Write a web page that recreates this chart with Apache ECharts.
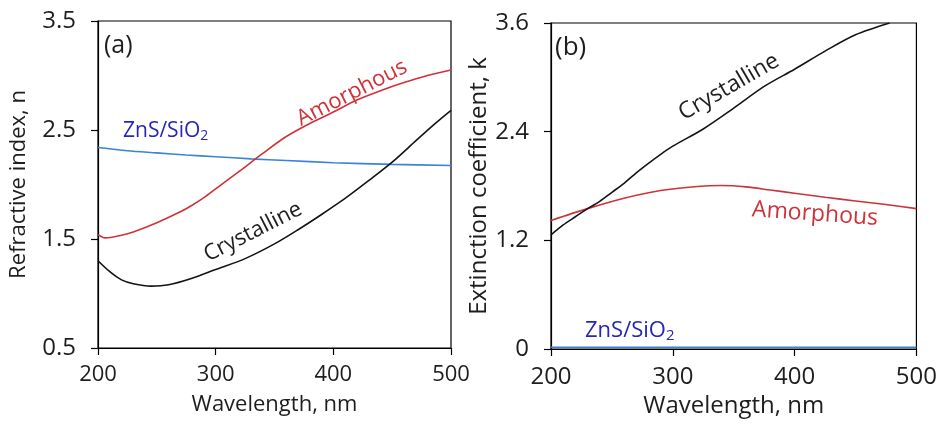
<!DOCTYPE html>
<html>
<head>
<meta charset="utf-8">
<script src="https://cdn.jsdelivr.net/npm/echarts@6/dist/echarts.min.js"></script>
<style>
html,body{margin:0;padding:0;background:#fff;}
#main{width:940px;height:428px;}
</style>
</head>
<body>
<div id="main"></div>
<script>
// ---- Panel (a): refractive index n ----
const nCrysX = [200,210,220,230,245,260,280,300,325,350,370,390,410,430,450,470,485,500];
const nCrysY = [1.30,1.20,1.125,1.09,1.068,1.08,1.14,1.22,1.32,1.455,1.585,1.725,1.872,2.035,2.205,2.40,2.545,2.68];
const nAmorX = [200,206,220,230,250,270,280,290,300,320,340,360,380,400,420,440,460,480,500];
const nAmorY = [1.54,1.51,1.535,1.565,1.65,1.75,1.81,1.88,1.96,2.12,2.285,2.44,2.56,2.665,2.775,2.86,2.935,3.00,3.05];
const nZnsX = [200,225,250,275,300,330,360,400,450,500];
const nZnsY = [2.34,2.31,2.29,2.27,2.255,2.235,2.22,2.20,2.185,2.175];
// ---- Panel (b): extinction coefficient k ----
const kCrysX = [200,210,220,230,240,250,260,270,280,290,300,325,350,375,400,425,450,478];
const kCrysY = [1.26,1.37,1.46,1.55,1.63,1.73,1.83,1.945,2.05,2.15,2.24,2.43,2.66,2.90,3.09,3.29,3.47,3.60];
const kAmorX = [200,230,260,290,320,340,360,380,400,425,450,475,500];
const kAmorY = [1.42,1.55,1.665,1.75,1.795,1.805,1.79,1.755,1.72,1.675,1.635,1.595,1.55];
const kZnsX = [200,300,400,500];
const kZnsY = [0.02,0.02,0.02,0.02];
// ---- axes / ticks ----
const xTicks = [200,300,400,500];
const nTicks = ['0.5','1.5','2.5','3.5'];
const kTicks = ['0','1.2','2.4','3.6'];

const FONT = '"Open Sans", "Noto Sans", sans-serif';
const TXT = '#1e1e1e';
const RED = '#cf3238';
const BLACK = '#141414';
const BLUE_LINE = '#3b82d9';
const BLUE_TXT = '#2626b8';

function pairs(xs, ys){ return xs.map((x,i)=>[x, ys[i]]); }
function fmtTick(list){ return v => { const m = list.find(t => Math.abs(parseFloat(t) - v) < 1e-6); return m !== undefined ? m : ''; }; }

function xAxis(gi, gap, fs){
  return {
    type:'value', gridIndex:gi, min:xTicks[0], max:xTicks[xTicks.length-1], interval:100,
    axisLine:{show:true, onZero:false, lineStyle:{color:'#000', width:1.2}},
    axisTick:{show:true, inside:false, length:7, lineStyle:{color:'#000', width:1.2}},
    splitLine:{show:false},
    axisLabel:{color:TXT, fontFamily:FONT, fontSize:fs, margin:16, formatter:v=>String(v)},
    name:'Wavelength, nm', nameLocation:'middle', nameGap:gap,
    nameTextStyle:{color:TXT, fontFamily:FONT, fontSize:fs}
  };
}
function yAxis(gi, min, max, interval, ticks, name, gap, nfs){
  return {
    type:'value', gridIndex:gi, min:min, max:max, interval:interval,
    axisLine:{show:true, onZero:false, lineStyle:{color:'#000', width:1.2}},
    axisTick:{show:true, inside:false, length:7, lineStyle:{color:'#000', width:1.2}},
    splitLine:{show:false},
    axisLabel:{color:TXT, fontFamily:FONT, fontSize:24, margin:22, formatter:fmtTick(ticks)},
    name:name, nameLocation:'middle', nameGap:gap, nameRotate:90,
    nameTextStyle:{color:TXT, fontFamily:FONT, fontSize:nfs}
  };
}
function line(xi, yi, xs, ys, color){
  return {type:'line', xAxisIndex:xi, yAxisIndex:yi, data:pairs(xs,ys), showSymbol:false, symbol:'none',
    smooth:0.3, clip:true, lineStyle:{color:color, width:1.6}, z:3};
}

const chart = echarts.init(document.getElementById('main'), null, {renderer:'canvas'});
chart.setOption({
  animation:false,
  backgroundColor:'#fff',
  grid:[
    {left:98, top:21, width:353, height:327, show:true, borderColor:'#000', borderWidth:1.2, backgroundColor:'transparent'},
    {left:551, top:23, width:366, height:326, show:true, borderColor:'#000', borderWidth:1.2, backgroundColor:'transparent'}
  ],
  xAxis:[ xAxis(0, 46, 22), xAxis(1, 45, 24) ],
  yAxis:[
    yAxis(0, 0.5, 3.5, 1, nTicks, 'Refractive index, n', 68, 22),
    yAxis(1, 0, 3.6, 1.2, kTicks, 'Extinction coefficient, k', 60, 24)
  ],
  series:[
    line(0,0,nZnsX,nZnsY,BLUE_LINE),
    line(0,0,nAmorX,nAmorY,RED),
    line(0,0,nCrysX,nCrysY,BLACK),
    line(1,1,kZnsX,kZnsY,BLUE_LINE),
    line(1,1,kAmorX,kAmorY,RED),
    line(1,1,kCrysX,kCrysY,BLACK)
  ],
  graphic:[
    {type:'text', x:104, y:46, style:{text:'(a)', fill:TXT, font:'25px '+FONT, align:'left', verticalAlign:'middle'}},
    {type:'text', x:555, y:48, style:{text:'(b)', fill:TXT, font:'26px '+FONT, align:'left', verticalAlign:'middle'}},
    {type:'text', x:123, y:131, style:{text:'{a|ZnS/SiO}{b|2}', align:'left', verticalAlign:'middle',
      rich:{a:{fill:BLUE_TXT, fontFamily:FONT, fontSize:21}, b:{fill:BLUE_TXT, fontFamily:FONT, fontSize:14, padding:[10,0,0,0]}}}},
    {type:'text', x:585, y:331, style:{text:'{a|ZnS/SiO}{b|2}', align:'left', verticalAlign:'middle',
      rich:{a:{fill:BLUE_TXT, fontFamily:FONT, fontSize:22}, b:{fill:BLUE_TXT, fontFamily:FONT, fontSize:15, padding:[10,0,0,0]}}}},
    {type:'text', x:352, y:93, rotation:27*Math.PI/180, style:{text:'Amorphous', fill:RED, font:'22px '+FONT, align:'center', verticalAlign:'middle'}},
    {type:'text', x:253, y:232, rotation:27*Math.PI/180, style:{text:'Crystalline', fill:TXT, font:'22px '+FONT, align:'center', verticalAlign:'middle'}},
    {type:'text', x:729, y:87, rotation:30*Math.PI/180, style:{text:'Crystalline', fill:TXT, font:'23px '+FONT, align:'center', verticalAlign:'middle'}},
    {type:'text', x:815, y:214, rotation:-4*Math.PI/180, style:{text:'Amorphous', fill:RED, font:'23px '+FONT, align:'center', verticalAlign:'middle'}}
  ]
});
</script>
</body>
</html>
